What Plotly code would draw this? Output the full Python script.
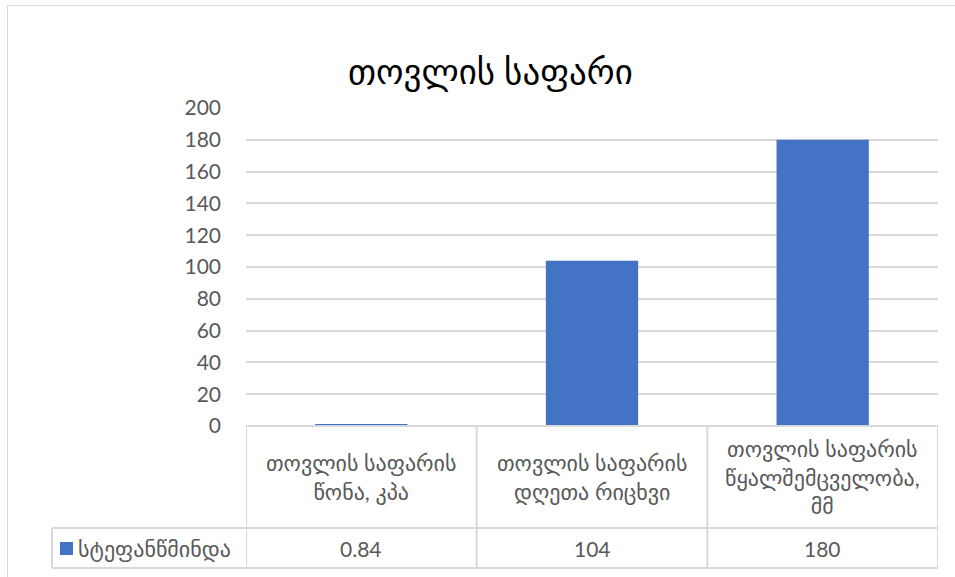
import plotly.graph_objects as go

# ---- data ----
title_text = "თოვლის საფარი"
series_name = "სტეფანწმინდა"
categories = [
    "თოვლის საფარის<br>წონა, კპა",
    "თოვლის საფარის<br>დღეთა რიცხვი",
    "თოვლის საფარის<br>წყალშემცველობა,<br>მმ",
]
values = [0.84, 104, 180]
value_labels = ["0.84", "104", "180"]
y_ticks = [0, 20, 40, 60, 80, 100, 120, 140, 160, 180, 200]

# ---- styling / layout ----
BAR_COLOR = "#4472C4"
GRID = "#d9d9d9"
TEXT = "#595959"
FONT = "Lato, DejaVu Sans, sans-serif"
NUM_SIZE = 21      # digits (ticks, table values)
GEO_SIZE = 22      # Georgian labels in the data table
TITLE_SIZE = 35

W, H = 955, 577
L, R, T, B = 246, 17, 108, 151
PW, PH = W - L - R, H - T - B


def py(y):
    """pixel row -> paper y"""
    return (H - B - y) / PH


def px(x):
    """pixel column -> paper x"""
    return (x - L) / PW


row_top, row_mid, row_bot = 426, 528, 568
legend_left = 52

n = len(categories)
idx = list(range(n))

fig = go.Figure(
    go.Bar(
        x=idx,
        y=values,
        name=series_name,
        marker=dict(color=BAR_COLOR, line=dict(width=0)),
        width=0.4,
        showlegend=False,
    )
)

shapes = []
line = dict(color=GRID, width=2)
# horizontal table lines across category columns
for yy in (row_top, row_mid, row_bot):
    shapes.append(dict(type="line", xref="x", yref="paper", x0=-0.5, x1=n - 0.5,
                       y0=py(yy), y1=py(yy), line=line, layer="above"))
# vertical column separators
for i in range(n + 1):
    shapes.append(dict(type="line", xref="x", yref="paper", x0=i - 0.5, x1=i - 0.5,
                       y0=py(row_top), y1=py(row_bot), line=line))
# legend cell (value row only)
shapes.append(dict(type="line", xref="paper", yref="paper", x0=px(legend_left), x1=0,
                   y0=py(row_mid), y1=py(row_mid), line=line))
shapes.append(dict(type="line", xref="paper", yref="paper", x0=px(legend_left), x1=0,
                   y0=py(row_bot), y1=py(row_bot), line=line))
shapes.append(dict(type="line", xref="paper", yref="paper", x0=px(legend_left), x1=px(legend_left),
                   y0=py(row_mid), y1=py(row_bot), line=line))
# legend swatch
shapes.append(dict(type="rect", xref="paper", yref="paper", x0=px(60), x1=px(73),
                   y0=py(555), y1=py(542), fillcolor=BAR_COLOR, line=dict(width=0)))
# outer chart frame
shapes.append(dict(type="rect", xref="paper", yref="paper", x0=px(7.5), x1=px(962),
                   y0=py(582), y1=py(5.5), line=dict(color=GRID, width=1)))

annotations = []
for i, (cat, lab) in enumerate(zip(categories, value_labels)):
    annotations.append(dict(x=i, xref="x", y=py((row_top + row_mid) / 2), yref="paper",
                            text=cat, showarrow=False, xanchor="center", yanchor="middle",
                            font=dict(family=FONT, size=GEO_SIZE, color=TEXT)))
    annotations.append(dict(x=i, xref="x", y=py((row_mid + row_bot) / 2), yref="paper",
                            text=lab, showarrow=False, xanchor="center", yanchor="middle",
                            font=dict(family=FONT, size=NUM_SIZE, color=TEXT)))
annotations.append(dict(x=px(76), xref="paper", y=py((row_mid + row_bot) / 2), yref="paper",
                        text=series_name, showarrow=False, xanchor="left", yanchor="middle",
                        font=dict(family=FONT, size=GEO_SIZE, color=TEXT)))
annotations.append(dict(x=px(490), xref="paper", y=py(70), yref="paper",
                        text=title_text, showarrow=False, xanchor="center", yanchor="middle",
                        font=dict(family=FONT, size=TITLE_SIZE, color="#000000")))

fig.update_layout(
    width=W, height=H,
    margin=dict(l=L, r=R, t=T, b=B, autoexpand=False),
    paper_bgcolor="white", plot_bgcolor="white",
    shapes=shapes, annotations=annotations,
    font=dict(family=FONT, size=NUM_SIZE, color=TEXT),
    xaxis=dict(range=[-0.5, n - 0.5], showticklabels=False, showgrid=False,
               zeroline=False, showline=False, ticks="", fixedrange=True),
    yaxis=dict(range=[0, 200], tickvals=y_ticks, showgrid=True, gridcolor=GRID,
               gridwidth=1.5, zeroline=False, showline=False, ticks="",
               ticklabelstandoff=24, tickfont=dict(family=FONT, size=NUM_SIZE, color=TEXT)),
)

fig.write_html("out.html")
